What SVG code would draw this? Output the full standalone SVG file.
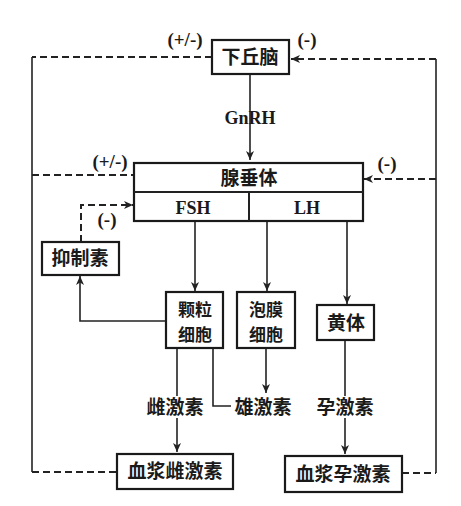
<svg xmlns="http://www.w3.org/2000/svg" width="461" height="506" viewBox="0 0 461 506">
<defs>
<marker id="ah" markerWidth="10" markerHeight="10" refX="9" refY="5" orient="auto" markerUnits="userSpaceOnUse">
<path d="M0,1 L9,5 L0,9 L2.5,5 Z" fill="#222"/>
</marker>
<style>
.box{fill:#fff;stroke:#1a1a1a;stroke-width:2.2}
.ln{fill:none;stroke:#222;stroke-width:1.6}
.ds{fill:none;stroke:#222;stroke-width:2;stroke-dasharray:7 4}
.cj{font-family:"Noto Sans CJK SC","Noto Sans CJK TC",sans-serif;font-weight:700;font-size:19px;fill:#1a1a1a;text-anchor:middle}
.c2{font-size:17px}
.lt{font-family:"Liberation Serif","DejaVu Serif",serif;font-weight:700;font-size:18px;fill:#1a1a1a;text-anchor:middle}
.sg{font-family:"Liberation Serif","DejaVu Serif",serif;font-weight:700;font-size:19px;fill:#1a1a1a;text-anchor:middle}
</style>
</defs>
<rect width="461" height="506" fill="#fff"/>
<g id="connectors">
<path class="ln" d="M250,74 V160" marker-end="url(#ah)"/>
<path class="ds" d="M212,57 H32"/>
<path class="ln" d="M32,57 V472"/>
<path class="ds" d="M32,472 H117"/>
<path class="ds" d="M32,175 H134"/>
<path class="ds" d="M402,473 H436"/>
<path class="ln" d="M436,473 V59"/>
<path class="ds" d="M436,59 H291" marker-end="url(#ah)"/>
<path class="ds" d="M436,179 H364" marker-end="url(#ah)"/>
<path class="ds" d="M81,242 V205 H133" marker-end="url(#ah)"/>
<path class="ln" d="M166,321 H80 V276" marker-end="url(#ah)"/>
<path class="ln" d="M195,221 V291" marker-end="url(#ah)"/>
<path class="ln" d="M267,221 V291" marker-end="url(#ah)"/>
<path class="ln" d="M347,221 V304" marker-end="url(#ah)"/>
<path class="ln" d="M177,348 V396"/>
<path class="ln" d="M177,418 V452" marker-end="url(#ah)"/>
<path class="ln" d="M213,348 V406 H231"/>
<path class="ln" d="M266,348 V393" marker-end="url(#ah)"/>
<path class="ln" d="M345,340 V396"/>
<path class="ln" d="M345,418 V454" marker-end="url(#ah)"/>
</g>
<g id="hypothalamus">
<rect class="box" x="212" y="40" width="77" height="34"/>
<text class="cj" x="250" y="64">下丘脑</text>
</g>
<g id="gnrh"><text class="lt" x="250" y="124">GnRH</text></g>
<g id="pituitary">
<rect class="box" x="134" y="163" width="229" height="58"/>
<path class="ln" d="M134,192 H363 M249,192 V221" style="stroke-width:2"/>
<text class="cj" x="249" y="185">腺垂体</text>
<text class="lt" x="193" y="214">FSH</text>
<text class="lt" x="307" y="214">LH</text>
</g>
<g id="inhibin">
<rect class="box" x="42" y="242" width="77" height="33"/>
<text class="cj" x="80" y="265">抑制素</text>
</g>
<g id="granulosa">
<rect class="box" x="166" y="292" width="57" height="56"/>
<text class="cj c2" x="195" y="316">颗粒</text>
<text class="cj c2" x="195" y="341">细胞</text>
</g>
<g id="theca">
<rect class="box" x="237" y="292" width="58" height="56"/>
<text class="cj c2" x="266" y="316">泡膜</text>
<text class="cj c2" x="266" y="341">细胞</text>
</g>
<g id="corpus">
<rect class="box" x="317" y="305" width="57" height="35"/>
<text class="cj" x="346" y="330">黄体</text>
</g>
<g id="estrogen"><text class="cj" x="175" y="414">雌激素</text></g>
<g id="androgen"><text class="cj" x="263" y="414">雄激素</text></g>
<g id="progesterone"><text class="cj" x="345" y="414">孕激素</text></g>
<g id="plasma-estrogen">
<rect class="box" x="117" y="454" width="116" height="35"/>
<text class="cj" x="175" y="478">血浆雌激素</text>
</g>
<g id="plasma-progesterone">
<rect class="box" x="285" y="456" width="117" height="36"/>
<text class="cj" x="343" y="481">血浆孕激素</text>
</g>
<g id="signs">
<text class="sg" x="185" y="46">(+/-)</text>
<text class="sg" x="307" y="46">(-)</text>
<text class="sg" x="110" y="168">(+/-)</text>
<text class="sg" x="387" y="170">(-)</text>
<text class="sg" x="107" y="226">(-)</text>
</g>
</svg>
